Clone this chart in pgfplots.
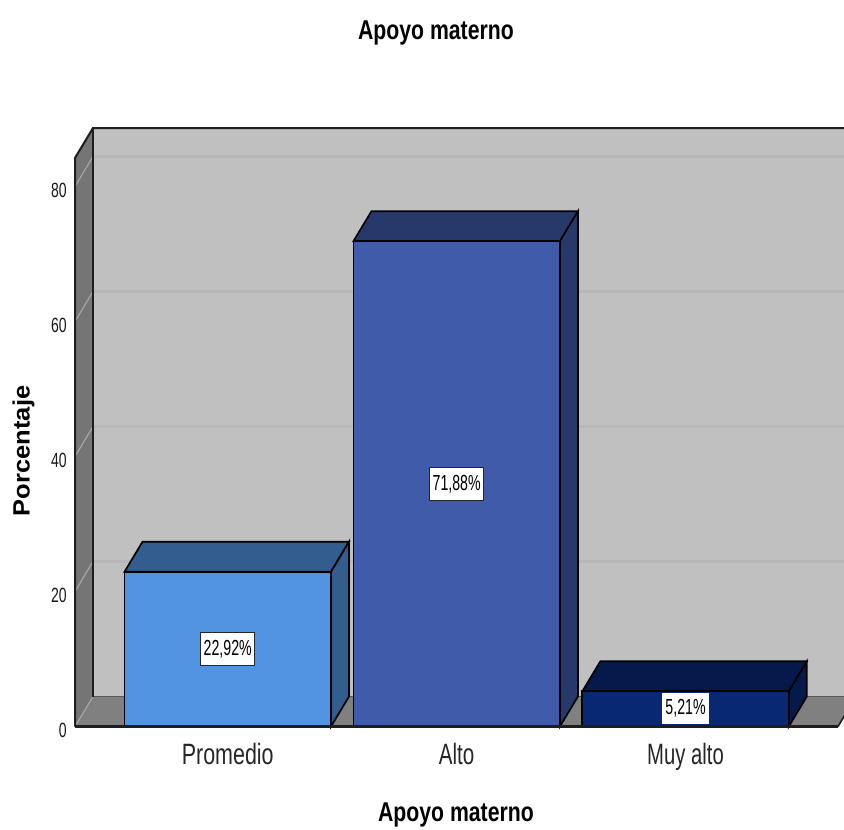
\documentclass[border=0pt]{standalone}
\usepackage{fontspec}
\setmainfont{Liberation Sans}
\usepackage{graphicx}
\usepackage{pgfplots}
\pgfplotsset{compat=1.18}
% squeezed text, the reference is narrowed horizontally
\newcommand{\sq}[2]{\scalebox{#1}[1]{#2}}
\newcommand{\yt}[1]{\sq{.68}{#1}}
\newcommand{\xt}[1]{\sq{.73}{#1}}
\newcommand{\dl}[1]{\sq{.65}{#1}}
\definecolor{wall}{HTML}{C0C0C0}
\definecolor{side}{HTML}{757575}
\definecolor{floorc}{HTML}{808080}
\definecolor{gridc}{HTML}{B7B7B7}
\definecolor{gridd}{HTML}{A6A6A6}
\definecolor{edge}{HTML}{1E1E1E}
\definecolor{aF}{HTML}{5294E2}
\definecolor{aD}{HTML}{335C8F}
\definecolor{bF}{HTML}{3F5BA9}
\definecolor{bD}{HTML}{27396A}
\definecolor{cF}{HTML}{082874}
\definecolor{cD}{HTML}{051A4A}
\begin{document}
\begin{tikzpicture}
\path[use as bounding box, clip] (-37.5pt,-51.25pt) rectangle (384.5pt,363.25pt);
\begin{axis}[
  at={(0pt,0pt)}, anchor=south west,
  scale only axis, width=384.5pt, height=299.25pt,
  xmin=-0.6673, xmax=2.6922, ymin=0, ymax=88.667,
  clip=false,
  axis line style={draw=none}, tick style={draw=none}, major tick length=0pt,
  /pgf/number format/assume math mode=true,
  xtick={0,1,2}, xticklabels={\xt{Promedio},\sq{.7}{Alto},\sq{.69}{Muy alto}},
  ytick={0,20,40,60,80}, yticklabels={\yt{0},\yt{20},\yt{40},\yt{60},\yt{80}},
  xticklabel style={anchor=base, yshift=-18.75pt, inner sep=0pt, text=black!85,
    font=\fontsize{14.7}{16}\selectfont},
  yticklabel style={anchor=east, xshift=-4pt, yshift=-2.2pt, inner sep=0pt, text=black!90,
    font=\fontsize{10.3}{12}\selectfont},
  title={\sq{.78}{Apoyo materno}},
  title style={at={(rel axis cs:0.4694,1.1387)}, anchor=center, inner sep=0pt, yshift=0pt,
    font=\bfseries\fontsize{13.6}{16}\selectfont},
  xlabel={\sq{.78}{Apoyo materno}},
  xlabel style={at={(rel axis cs:0.4954,-0.1479)}, anchor=center, inner sep=0pt,
    font=\bfseries\fontsize{13.6}{16}\selectfont},
  ylabel={\sq{1.08}{Porcentaje}},
  ylabel style={at={(rel axis cs:-0.0669,0.4605)}, anchor=center, inner sep=0pt, rotate=0,
    font=\bfseries\fontsize{11.8}{14}\selectfont},
]
% walls and floor
\addplot[fill=wall, draw=none] coordinates {(-0.5887,4.444)(2.7454,4.444)(2.7454,88.667)(-0.5887,88.667)} --cycle;
\addplot[fill=side, draw=none] coordinates {(-0.6673,0)(-0.6673,84.22)(-0.5887,88.667)(-0.5887,4.444)} --cycle;
\addplot[fill=floorc, draw=none] coordinates {(-0.6673,0)(2.666,0)(2.7446,4.444)(-0.5887,4.444)} --cycle;
% grid on the back wall, and its run over the side wall
\addplot[gridc, line width=1.1pt] coordinates {(-0.5887,24.444)(2.7454,24.444)};
\addplot[gridc, line width=1.1pt] coordinates {(-0.5887,44.444)(2.7454,44.444)};
\addplot[gridc, line width=1.1pt] coordinates {(-0.5887,64.444)(2.7454,64.444)};
\addplot[gridc, line width=1.1pt] coordinates {(-0.5887,84.444)(2.7454,84.444)};
\addplot[gridd, line width=.6pt] coordinates {(-0.6673,0)(-0.5887,4.444)};
\addplot[gridd, line width=.6pt] coordinates {(-0.6673,20)(-0.5887,24.444)};
\addplot[gridd, line width=.6pt] coordinates {(-0.6673,40)(-0.5887,44.444)};
\addplot[gridd, line width=.6pt] coordinates {(-0.6673,60)(-0.5887,64.444)};
\addplot[gridd, line width=.6pt] coordinates {(-0.6673,80)(-0.5887,84.444)};
% edges of the box
\addplot[black!65, line width=.8pt] coordinates {(-0.5887,4.444)(2.7454,4.444)};
\addplot[edge, line width=1pt] coordinates {(-0.6673,0)(-0.6673,84.22)(-0.5887,88.667)(2.7454,88.667)};
\addplot[edge, line width=1pt] coordinates {(-0.5887,88.667)(-0.5887,4.444)};
\addplot[edge, line width=.8pt] coordinates {(2.666,0)(2.7446,4.444)};
% bars
\addplot[fill=aD, draw=black, line width=.85pt] coordinates {(-0.4511,22.92)(0.4511,22.92)(0.5297,27.364)(-0.3725,27.364)} --cycle;
\addplot[fill=aD, draw=black, line width=.85pt] coordinates {(0.4511,0)(0.4511,22.92)(0.5297,27.364)(0.5297,4.444)} --cycle;
\addplot[ybar, bar width=103.25pt, bar shift=0pt, fill=aF, draw=black, line width=.85pt] coordinates {(0,22.92)};
\addplot[fill=bD, draw=black, line width=.85pt] coordinates {(0.5489,71.88)(1.4511,71.88)(1.5297,76.324)(0.6275,76.324)} --cycle;
\addplot[fill=bD, draw=black, line width=.85pt] coordinates {(1.4511,0)(1.4511,71.88)(1.5297,76.324)(1.5297,4.444)} --cycle;
\addplot[ybar, bar width=103.25pt, bar shift=0pt, fill=bF, draw=black, line width=.85pt] coordinates {(1,71.88)};
\addplot[fill=cD, draw=black, line width=.85pt] coordinates {(1.5489,5.21)(2.4511,5.21)(2.5297,9.654)(1.6275,9.654)} --cycle;
\addplot[fill=cD, draw=black, line width=.85pt] coordinates {(2.4511,0)(2.4511,5.21)(2.5297,9.654)(2.5297,4.444)} --cycle;
\addplot[ybar, bar width=103.25pt, bar shift=0pt, fill=cF, draw=black, line width=.85pt] coordinates {(2,5.21)};
% floor line in front
\addplot[edge, line width=1.1pt] coordinates {(-0.6673,0)(2.666,0)};
% value labels
\addplot[draw=none, mark=none, point meta=explicit symbolic,
  nodes near coords,
  every node near coord/.append style={anchor=center, fill=white, draw=black!85, line width=.6pt,
    inner xsep=1.5pt, inner ysep=0pt, minimum height=16.5pt, text=black,
    font=\fontsize{10.9}{12}\selectfont}]
  coordinates {(0,11.46)[\dl{22,92\%}] (1,35.94)[\dl{71,88\%}]};
\addplot[draw=none, mark=none, point meta=explicit symbolic,
  nodes near coords,
  every node near coord/.append style={anchor=center, fill=white, draw=none,
    inner xsep=1.5pt, inner ysep=0pt, minimum height=15.5pt, text=black,
    font=\fontsize{10.9}{12}\selectfont}]
  coordinates {(2,2.7)[\dl{5,21\%}]};
\end{axis}
\end{tikzpicture}
\end{document}
